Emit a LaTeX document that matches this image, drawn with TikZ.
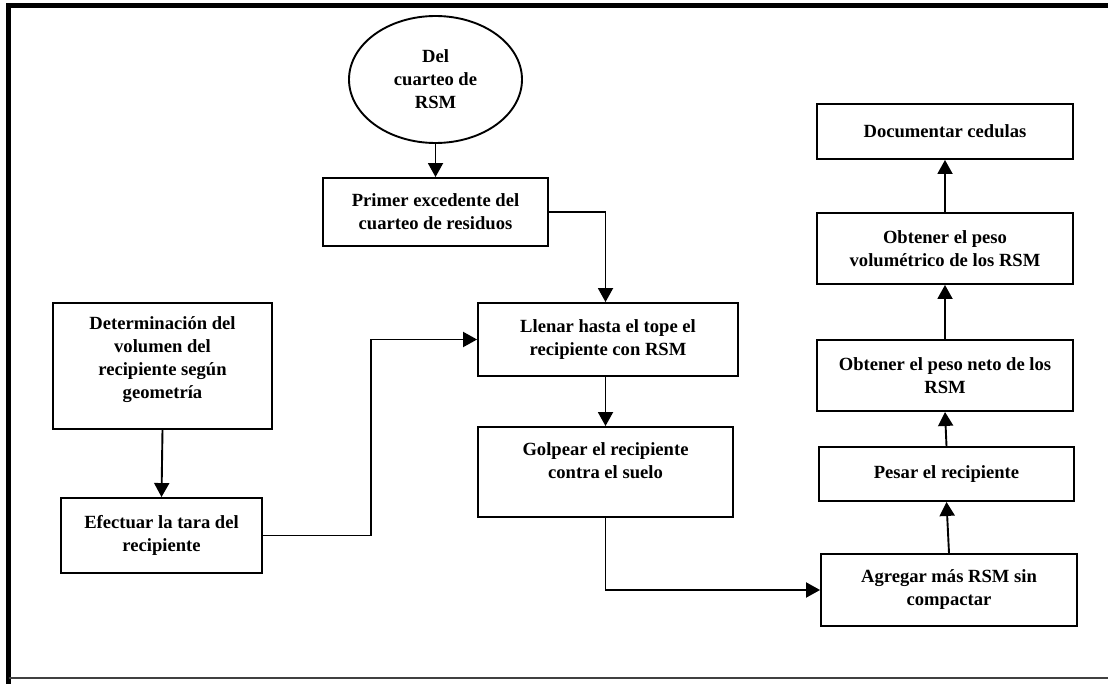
\documentclass[tikz,border=0pt]{standalone}
\usepackage{fontspec}
\setmainfont{Liberation Serif}
\usetikzlibrary{arrows.meta,shapes.geometric}
\begin{document}
\begin{tikzpicture}[x=1pt,y=-1pt,
  txt/.style={align=center, font=\fontsize{18.6}{23}\selectfont\bfseries},
  box/.style={txt, draw, line width=1.9pt, rectangle, inner sep=0pt},
  arr/.style={line width=1.9pt, -{Triangle[length=14pt,width=15pt]}},
  ]
\useasboundingbox (0,0) rectangle (1108,684);
% outer frame: heavy left and top rules, thin bottom rule
\draw[line width=5pt] (8.5,690) -- (8.5,5.8) -- (1110,5.8);
\draw[line width=1.2pt, black!75] (8.5,678) -- (1110,678);

% start
\node[txt, draw, ellipse, line width=1.9pt, inner sep=0pt,
      minimum width=173pt, minimum height=127pt] (del) at (435.5,79.5) {Del\\cuarteo de\\RSM};

% central column
\node[box, minimum width=225pt, minimum height=68pt] (primer) at (435.5,212)
  {Primer excedente del\\cuarteo de residuos};
\node[box, minimum width=260pt, minimum height=73pt] (llenar) at (608,339.5)
  {Llenar hasta el tope el\\recipiente con RSM};
\node[box, minimum width=255pt, minimum height=90pt, text depth=22pt] (golpear) at (605.5,472)
  {Golpear el recipiente\\contra el suelo};

% left column
\node[box, minimum width=219pt, minimum height=126pt, text depth=16pt] (determ) at (162.5,366)
  {Determinación del\\volumen del\\recipiente según\\geometría};
\node[box, minimum width=201pt, minimum height=75pt] (efectuar) at (161.5,535.5)
  {Efectuar la tara del\\recipiente};

% right column
\node[box, minimum width=256pt, minimum height=72pt] (agregar) at (949,590)
  {Agregar más RSM sin\\compactar};
\node[box, minimum width=255pt, minimum height=54pt] (pesar) at (946.5,474)
  {Pesar el recipiente};
\node[box, minimum width=256pt, minimum height=71pt] (neto) at (945,375.5)
  {Obtener el peso neto de los\\RSM};
\node[box, minimum width=256pt, minimum height=71pt] (volum) at (945,248.5)
  {Obtener el peso\\volumétrico de los RSM};
\node[box, minimum width=256pt, minimum height=55pt] (doc) at (945,131.5)
  {Documentar cedulas};

% connectors
\draw[arr] (del.south) -- (primer.north);
\draw[arr] (primer.east) -| (golpear.north |- llenar.north);
\draw[arr] (golpear.north |- llenar.south) -- (golpear.north);
\draw[arr] (golpear.south) |- (agregar.west);
\draw[arr] (determ.south) -- (efectuar.north);
\draw[arr] (efectuar.east) -- ++(108,0) |- (llenar.west);
\draw[arr] (agregar.north) -- (pesar.south);
\draw[arr] (pesar.north) -- (neto.south);
\draw[arr] (neto.north) -- (volum.south);
\draw[arr] (volum.north) -- (doc.south);
\end{tikzpicture}
\end{document}
